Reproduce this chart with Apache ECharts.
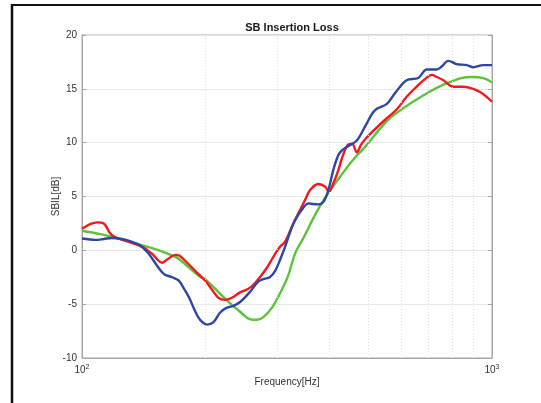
<!DOCTYPE html>
<html>
<head>
<meta charset="utf-8">
<script src="https://cdn.jsdelivr.net/npm/echarts@6/dist/echarts.min.js"></script>
<style>
html,body{margin:0;padding:0;background:#fff;}
#c{width:541px;height:403px;}
</style>
</head>
<body>
<div id="c"></div>
<script>
// ---- data ----
var title = 'SB Insertion Loss';
var xName = 'Frequency[Hz]';
var yName = 'SBIL[dB]';
var yTicks = [-10, -5, 0, 5, 10, 15, 20];
var xMinorGrid = [200, 300, 400, 500, 600, 700, 800, 900];

var redFreq = [100,105,109,113,117,120,125,132,140,148,157,162,169,173,181,191,200,208,215,223,232,243,254,264,280,293,304,313,325,337,350,360,377,392,400,410,422,431,445,456,468,479,490,523,555,586,617,655,686,713,734,761,805,851,900,935,967,1000];
var redVal  = [2.0,2.45,2.6,2.5,1.6,1.25,1.0,0.7,0.34,-0.3,-1.15,-0.8,-0.42,-0.5,-1.2,-2.1,-2.85,-3.7,-4.4,-4.6,-4.4,-3.9,-3.6,-3.06,-1.83,-0.6,0.34,0.8,2.2,3.43,4.67,5.6,6.16,5.9,5.44,6.2,7.45,8.6,9.8,9.9,9.1,9.8,10.3,11.4,12.3,13.1,14.2,15.2,15.9,16.3,16.1,15.8,15.2,15.2,15.0,14.7,14.3,13.8];

var blueFreq = [100,108,113,118,125,131,138,145,154,159,166,172,177,182,187,192,197,202,209,217,225,234,243,257,269,278,287,296,304,313,322,331,344,357,366,377,388,399,410,422,431,442,468,495,518,554,580,619,661,693,733,755,782,820,868,900,952,1000];
var blueVal  = [1.1,0.97,1.05,1.15,1.05,0.85,0.5,-0.25,-1.67,-2.25,-2.5,-2.8,-3.5,-4.3,-5.3,-6.2,-6.7,-6.9,-6.7,-5.8,-5.35,-5.15,-4.8,-3.85,-2.9,-2.65,-2.5,-1.9,-0.9,0.34,1.73,2.8,3.8,4.36,4.3,4.27,4.5,5.6,7.45,8.85,9.3,9.6,10.2,11.8,13.0,13.6,14.6,15.8,16.0,16.8,16.8,17.1,17.6,17.3,17.2,17.0,17.2,17.2];

var greenFreq = [100,111,120,131,154,169,173,194,200,225,243,257,267,277,291,304,318,331,344,384,438,468,485,554,597,667,775,892,952,1000];
var greenVal  = [1.82,1.5,1.2,0.8,0.0,-0.6,-0.85,-2.45,-2.7,-4.6,-5.7,-6.4,-6.45,-6.2,-5.3,-4.0,-2.4,-0.28,0.9,4.36,7.45,8.8,9.4,12.0,13.0,14.2,15.5,16.1,16.0,15.6];

function pairs(f, v) { return f.map(function (x, i) { return [x, v[i]]; }); }

var chart = echarts.init(document.getElementById('c'), null, {renderer: 'canvas'});
var font = 'Liberation Sans, Arial, Helvetica, sans-serif';
var lineW = 2.4;

var option = {
  animation: false,
  backgroundColor: '#ffffff',
  title: {
    text: title, left: 287, top: 17, textAlign: 'center',
    textStyle: {fontFamily: font, fontSize: 11, fontWeight: 'bold', color: '#1a1a1a'}
  },
  grid: {left: 82, right: 49, top: 35, bottom: 45, show: true, borderColor: '#a6a6a6', borderWidth: 1, backgroundColor: '#fff'},
  xAxis: {
    type: 'log', logBase: 10, min: 100, max: 1000,
    name: xName, nameLocation: 'middle', nameGap: 19, nameMoveOverlap: false,
    nameTextStyle: {fontFamily: font, fontSize: 10, color: '#333', verticalAlign: 'top'},
    axisLine: {onZero: false, lineStyle: {color: '#a6a6a6', width: 1}},
    axisTick: {inside: true, length: 4, lineStyle: {color: '#a6a6a6'}},
    splitLine: {show: false},
    axisLabel: {
      margin: 6,
      formatter: function (v) { return '{a|10}{b|' + Math.round(Math.log10(v)) + '}'; },
      rich: {
        a: {fontFamily: font, fontSize: 10, color: '#333'},
        b: {fontFamily: font, fontSize: 7, color: '#333', verticalAlign: 'top', padding: [0, 0, 6, 0]}
      }
    }
  },
  yAxis: [{
    type: 'value', min: yTicks[0], max: yTicks[yTicks.length - 1], interval: 5,
    name: yName, nameLocation: 'middle', nameGap: 21, nameRotate: 90, nameMoveOverlap: false,
    nameTextStyle: {fontFamily: font, fontSize: 10, color: '#333'},
    axisLine: {show: true, onZero: false, lineStyle: {color: '#a6a6a6', width: 1}},
    axisTick: {show: true, inside: true, length: 4, lineStyle: {color: '#a6a6a6'}},
    axisLabel: {fontFamily: font, fontSize: 10, color: '#333', margin: 5},
    splitLine: {show: true, lineStyle: {color: '#e8e8e8', width: 1}}
  }, {
    type: 'value', position: 'right', min: yTicks[0], max: yTicks[yTicks.length - 1], interval: 5,
    axisLine: {show: true, onZero: false, lineStyle: {color: '#a6a6a6', width: 1}},
    axisTick: {show: true, inside: true, length: 4, lineStyle: {color: '#a6a6a6'}},
    axisLabel: {show: false},
    splitLine: {show: false}
  }],
  series: [
    {
      type: 'line', name: 'grid', data: [], silent: true,
      markLine: {
        silent: true, symbol: 'none', label: {show: false},
        lineStyle: {color: '#dedede', type: [1, 2], width: 1},
        data: xMinorGrid.map(function (v) { return {xAxis: v}; })
      }
    },
    {type: 'line', name: 'green', data: pairs(greenFreq, greenVal), smooth: 0.4, showSymbol: false,
     lineStyle: {color: '#5cc23a', width: lineW}, z: 3},
    {type: 'line', name: 'red', data: pairs(redFreq, redVal), smooth: 0.35, showSymbol: false,
     lineStyle: {color: '#f2191e', width: lineW}, z: 4},
    {type: 'line', name: 'blue', data: pairs(blueFreq, blueVal), smooth: 0.35, showSymbol: false,
     lineStyle: {color: '#2e47a3', width: lineW}, z: 5}
  ],
  graphic: [
    {type: 'line', shape: {x1: 12, y1: 4, x2: 12, y2: 403}, style: {stroke: '#111', lineWidth: 2.5}, z: 100},
    {type: 'line', shape: {x1: 11, y1: 5, x2: 541, y2: 5}, style: {stroke: '#111', lineWidth: 2}, z: 100}
  ]
};
chart.setOption(option);
</script>
</body>
</html>
